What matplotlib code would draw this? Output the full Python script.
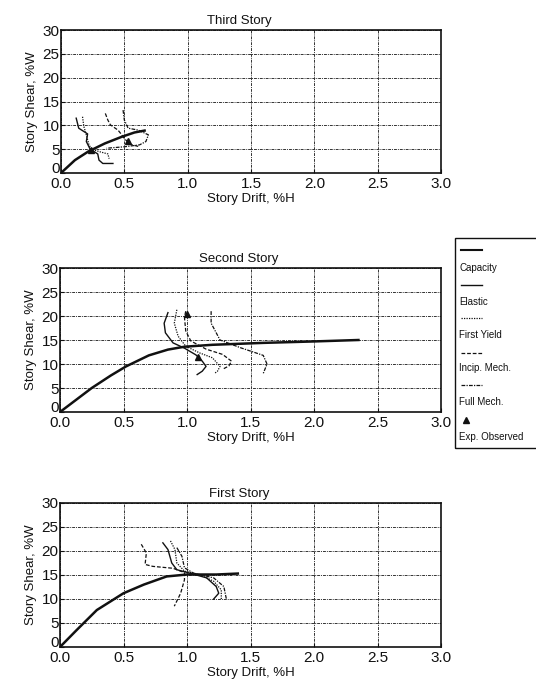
import matplotlib
matplotlib.use("Agg")
import matplotlib.pyplot as plt
import matplotlib.transforms as mtransforms
from matplotlib.lines import Line2D
from matplotlib.patches import Rectangle

plt.rcParams['font.family'] = ['Liberation Sans', 'DejaVu Sans']

# ---------------------------------------------------------------
# Data (drift %H, shear %W)
# ---------------------------------------------------------------

# Third story
third_cap_x = [0.0, 0.11, 0.215, 0.346, 0.48, 0.58, 0.66]
third_cap_y = [0.0, 2.7, 4.5, 6.2, 7.6, 8.5, 8.9]
third_elastic_x = [0.12, 0.14, 0.21, 0.20, 0.23, 0.29, 0.30, 0.33, 0.41]
third_elastic_y = [11.5, 9.4, 8.2, 6.6, 5.0, 4.0, 2.7, 2.0, 2.0]
third_yield_x = [0.17, 0.18, 0.20, 0.22, 0.24, 0.30, 0.37, 0.38]
third_yield_y = [11.8, 9.8, 8.0, 6.0, 5.0, 4.5, 4.0, 3.0]
third_incip_x = [0.35, 0.37, 0.39, 0.45, 0.48, 0.50, 0.55, 0.62]
third_incip_y = [12.5, 11.1, 10.1, 9.0, 8.0, 7.2, 6.0, 5.5]
third_full_x = [0.49, 0.50, 0.53, 0.61, 0.69, 0.67, 0.62, 0.50, 0.36]
third_full_y = [13.2, 11.1, 9.4, 9.0, 8.0, 6.6, 5.9, 5.5, 5.2]
third_obs_x = [0.53, 0.24]
third_obs_y = [6.8, 4.8]

# Second story
second_cap_x = [0.0, 0.13, 0.25, 0.40, 0.52, 0.70, 0.85, 0.98, 1.20, 1.60, 2.00, 2.35]
second_cap_y = [0.0, 2.6, 5.0, 7.6, 9.5, 11.8, 13.0, 13.6, 14.0, 14.4, 14.7, 15.0]
second_elastic_x = [0.85, 0.82, 0.83, 0.89, 0.98, 1.07, 1.12, 1.15, 1.12, 1.08]
second_elastic_y = [20.7, 18.5, 16.5, 14.4, 13.3, 11.9, 10.6, 9.5, 8.5, 7.8]
second_yield_x = [0.92, 0.90, 0.93, 0.99, 1.10, 1.20, 1.26, 1.24, 1.22]
second_yield_y = [21.3, 18.5, 15.8, 13.7, 12.3, 11.3, 9.5, 8.5, 8.1]
second_incip_x = [0.99, 0.98, 0.99, 1.03, 1.15, 1.28, 1.35, 1.33, 1.28]
second_incip_y = [21.0, 19.7, 16.9, 14.8, 13.1, 12.0, 10.6, 9.6, 8.9]
second_full_x = [1.19, 1.19, 1.23, 1.26, 1.42, 1.60, 1.63, 1.60]
second_full_y = [21.0, 18.5, 16.5, 15.0, 13.4, 11.8, 10.0, 8.0]
second_obs_x = [1.00, 1.09]
second_obs_y = [20.5, 11.4]

# First story
first_cap_x = [0.0, 0.13, 0.29, 0.50, 0.66, 0.84, 1.00, 1.23, 1.40]
first_cap_y = [0.0, 3.5, 7.7, 11.2, 13.0, 14.7, 15.1, 15.1, 15.3]
first_elastic_x = [0.81, 0.85, 0.88, 0.92, 1.02, 1.155, 1.23, 1.25, 1.21]
first_elastic_y = [21.7, 20.3, 17.5, 16.1, 15.4, 14.4, 12.6, 11.2, 10.0]
first_yield_x = [0.87, 0.905, 0.92, 0.98, 1.10, 1.21, 1.27, 1.27]
first_yield_y = [22.1, 20.3, 17.5, 15.8, 15.1, 13.7, 11.9, 10.0]
first_incip_x = [0.64, 0.68, 0.67, 0.73, 0.89, 0.98, 0.98, 0.95, 0.90]
first_incip_y = [21.4, 19.6, 17.2, 16.8, 16.4, 15.5, 14.0, 11.2, 8.5]
first_full_x = [0.92, 0.96, 0.98, 1.05, 1.21, 1.29, 1.31]
first_full_y = [20.7, 18.9, 16.5, 15.4, 14.4, 12.6, 10.0]

titles = ["Third Story", "Second Story", "First Story"]
x_ticks = [0.0, 0.5, 1.0, 1.5, 2.0, 2.5, 3.0]
y_ticks = [0, 5, 10, 15, 20, 25, 30]
legend_labels = ["Capacity", "Elastic", "First Yield", "Incip. Mech.",
                 "Full Mech.", "Exp. Observed"]

# ---------------------------------------------------------------
# Styles
# ---------------------------------------------------------------
INK = '#111111'
styles = {
    'cap':     dict(color=INK, lw=1.8, ls='-'),
    'elastic': dict(color=INK, lw=1.0, ls='-'),
    'yield':   dict(color=INK, lw=0.9, ls=(0, (1, 1))),
    'incip':   dict(color=INK, lw=0.9, ls=(0, (3, 1.5))),
    'full':    dict(color=INK, lw=0.9, ls=(0, (3, 1, 1, 1))),
}

fig = plt.figure(figsize=(5.36, 6.90), dpi=100)

rects = [
    [61 / 536, 1 - 173 / 690, 380 / 536, 143 / 690],
    [60 / 536, 1 - 412 / 690, 381 / 536, 144 / 690],
    [60 / 536, 1 - 647 / 690, 381 / 536, 144 / 690],
]

panels = [
    (third_cap_x, third_cap_y, third_elastic_x, third_elastic_y,
     third_yield_x, third_yield_y, third_incip_x, third_incip_y,
     third_full_x, third_full_y, third_obs_x, third_obs_y),
    (second_cap_x, second_cap_y, second_elastic_x, second_elastic_y,
     second_yield_x, second_yield_y, second_incip_x, second_incip_y,
     second_full_x, second_full_y, second_obs_x, second_obs_y),
    (first_cap_x, first_cap_y, first_elastic_x, first_elastic_y,
     first_yield_x, first_yield_y, first_incip_x, first_incip_y,
     first_full_x, first_full_y, [], []),
]

for rect, title, data in zip(rects, titles, panels):
    (cx, cy, ex, ey, yx, yy, ix, iy, fx, fy, ox, oy) = data
    ax = fig.add_axes(rect)
    ax.plot(cx, cy, **styles['cap'], zorder=4)
    ax.plot(ex, ey, **styles['elastic'], zorder=3)
    ax.plot(yx, yy, **styles['yield'], zorder=3)
    ax.plot(ix, iy, **styles['incip'], zorder=3)
    ax.plot(fx, fy, **styles['full'], zorder=3)
    if ox:
        ax.plot(ox, oy, ls='none', marker='^', ms=4, color=INK, zorder=5)

    ax.set_xlim(0, 3)
    ax.set_ylim(0, 30)
    ax.set_xticks(x_ticks)
    ax.set_yticks(y_ticks)
    ax.set_xticklabels([f"{t:.1f}" for t in x_ticks])
    ax.set_yticklabels([str(t) for t in y_ticks])
    ax.grid(True, color='#333333', lw=0.7, ls=(0, (3, 1, 1, 1)))
    ax.set_axisbelow(True)
    ax.tick_params(direction='in', length=3, width=0.8, labelsize=11,
                   colors=INK)
    ax.tick_params(axis='y', pad=1)
    ax.tick_params(axis='x', pad=3)
    # the "0" on the shear axis sits a little above the corner
    lift = mtransforms.ScaledTranslation(0, 4 / 72, fig.dpi_scale_trans)
    zero_lab = ax.get_yticklabels()[0]
    zero_lab.set_transform(zero_lab.get_transform() + lift)
    for sp in ax.spines.values():
        sp.set_linewidth(1.2)
        sp.set_color(INK)

    ax.set_title(title, fontsize=9.5, x=0.47, pad=4, color=INK)
    ax.set_xlabel("Story Drift, %H", fontsize=9.5, labelpad=1, color=INK)
    ax.set_ylabel("Story Shear, %W", fontsize=9.5, labelpad=3, color=INK)

# ---------------------------------------------------------------
# Legend box (drawn by hand: sample line above each label)
# ---------------------------------------------------------------
W, H = 536, 690
box = Rectangle((455 / W, 1 - 448 / H), 0.3, 210 / H,
                transform=fig.transFigure, fill=False,
                edgecolor=INK, lw=1.0)
fig.add_artist(box)

sample_y = [250, 285, 318, 353, 385]
text_y = [268, 302, 335, 368, 402, 437]
keys = ['cap', 'elastic', 'yield', 'incip', 'full']
for k, sy in zip(keys, sample_y):
    st = dict(styles[k])
    if k == 'cap':
        st['lw'] = 1.5
    fig.add_artist(Line2D([461 / W, 482 / W], [1 - sy / H, 1 - sy / H],
                          transform=fig.transFigure, **st))
fig.add_artist(Line2D([466 / W], [1 - 420 / H], transform=fig.transFigure,
                      ls='none', marker='^', ms=4.5, color=INK))
for lab, ty in zip(legend_labels, text_y):
    fig.text(459 / W, 1 - ty / H, lab, fontsize=7, va='center',
             ha='left', color=INK)

fig.savefig("out.png", dpi=100)
